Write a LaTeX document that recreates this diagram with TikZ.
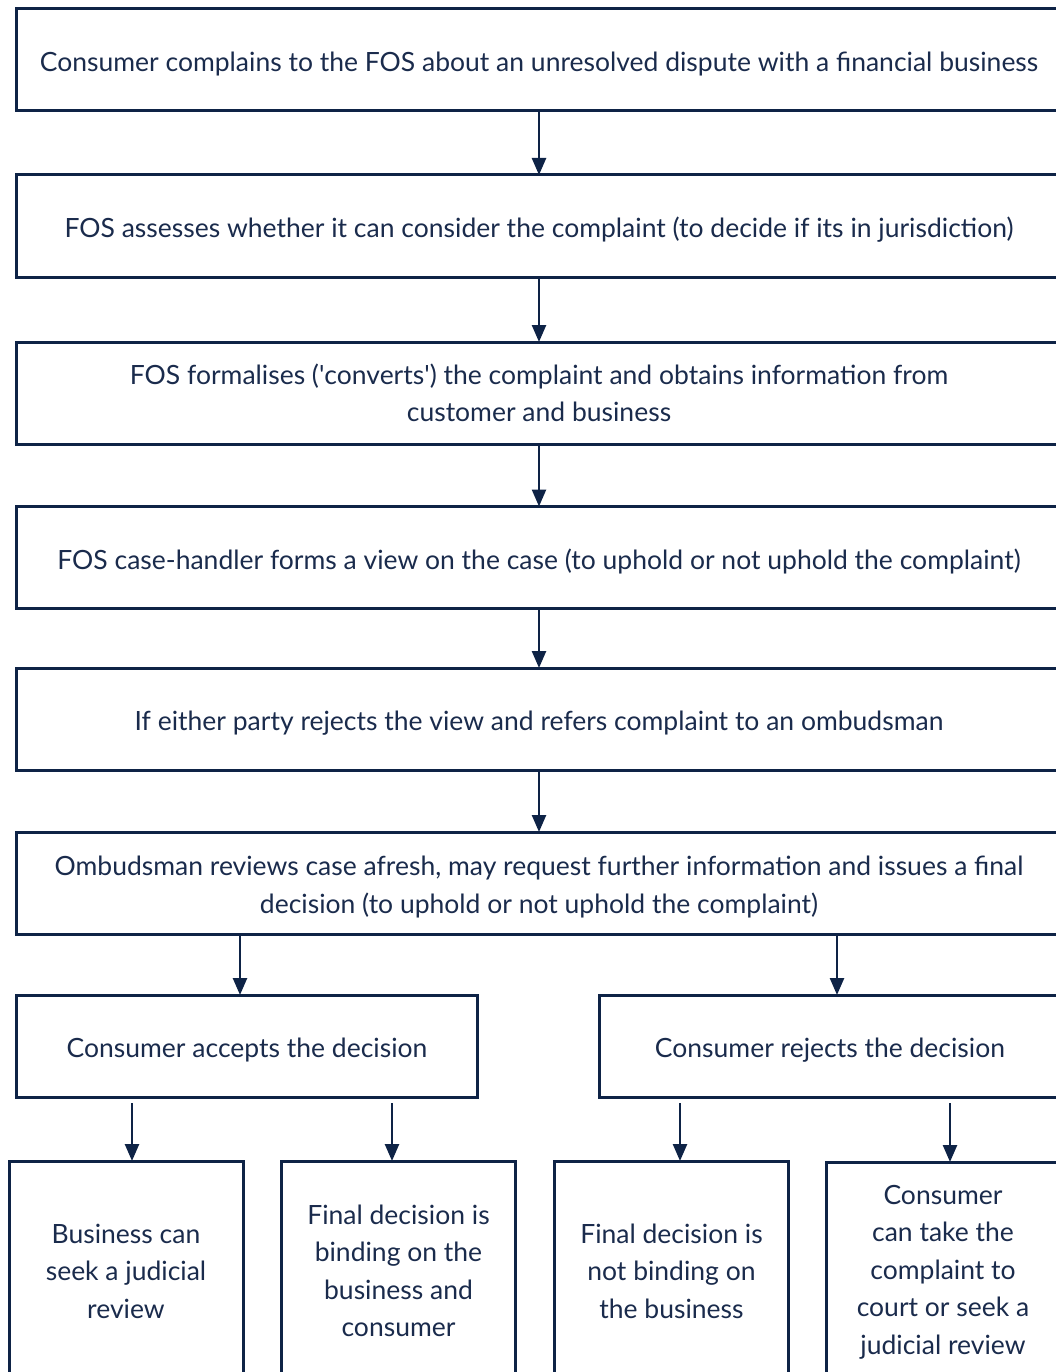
\documentclass[tikz,border=0pt]{standalone}
\usepackage{fontspec}
\setmainfont{Lato}
\usetikzlibrary{arrows.meta,calc}
\definecolor{navy}{HTML}{0E2346}
\definecolor{txt}{HTML}{1A2B4C}
\newcommand{\lowr}[1]{\raisebox{-4pt}[\height][\depth]{#1}}
\begin{document}
\begin{tikzpicture}[x=1pt,y=-1pt,
  box/.style={draw=navy,line width=3pt,rectangle,inner sep=0pt,outer sep=0pt,
    align=center,text=txt,font=\fontsize{26.5}{37.5}\selectfont},
  wide/.style={box,minimum width=1046pt,minimum height=102pt},
  mid/.style={box,minimum width=461pt,minimum height=102pt},
  low/.style={box,minimum width=234pt,minimum height=220pt},
  arr/.style={draw=navy,line width=2.5pt,-{Triangle[width=14pt,length=17pt]}}]
\useasboundingbox (0,0) rectangle (1056,1372);
\clip (0,0) rectangle (1056,1372);
\node[wide] (b1) at (539,60) {\lowr{Consumer complains to the FOS about an unresolved dispute with a financial business}};
\node[wide] (b2) at (539,226) {\lowr{FOS assesses whether it can consider the complaint (to decide if its in jurisdiction)}};
\node[wide] (b3) at (539,393) {FOS formalises (\textquotesingle converts\textquotesingle) the complaint and obtains information from\\customer and business};
\node[wide] (b4) at (539,557.5) {\lowr{FOS case-handler forms a view on the case (to uphold or not uphold the complaint)}};
\node[wide] (b5) at (539,719) {\lowr{If either party rejects the view and refers complaint to an ombudsman}};
\node[wide] (b6) at (539,883) {\lowr{\begin{tabular}{@{}c@{}}Ombudsman reviews case afresh, may request further information and issues a final\\decision (to uphold or not uphold the complaint)\end{tabular}}};
\node[mid] (acc) at (247,1046) {\lowr{Consumer accepts the decision}};
\node[mid] (rej) at (830,1046) {\lowr{Consumer rejects the decision}};
\node[low] (l1) at (126,1271) {Business can\\seek a judicial\\review};
\node[low] (l2) at (398.5,1271) {Final decision is\\binding on the\\business and\\consumer};
\node[low] (l3) at (671.5,1271) {Final decision is\\not binding on\\the business};
\node[low] (l4) at (943,1272) {Consumer\\can take the\\complaint to\\court or seek a\\judicial review};
\draw[arr] (b1) -- (b2);
\draw[arr] (b2) -- (b3);
\draw[arr] (b3) -- (b4);
\draw[arr] (b4) -- (b5);
\draw[arr] (b5) -- (b6);
\draw[arr] ($(b6.south -| acc.north)+(-7,0)$) -- ($(acc.north)+(-7,0)$);
\draw[arr] ($(b6.south -| rej.north)+(7,0)$) -- ($(rej.north)+(7,0)$);
\coordinate (s1) at (132,1103);
\coordinate (s2) at (392,1103);
\coordinate (s3) at (680,1103);
\coordinate (s4) at (950,1103);
\draw[arr] (s1) -- (s1 |- l1.north);
\draw[arr] (s2) -- (s2 |- l2.north);
\draw[arr] (s3) -- (s3 |- l3.north);
\draw[arr] (s4) -- (s4 |- l4.north);
\end{tikzpicture}
\end{document}
